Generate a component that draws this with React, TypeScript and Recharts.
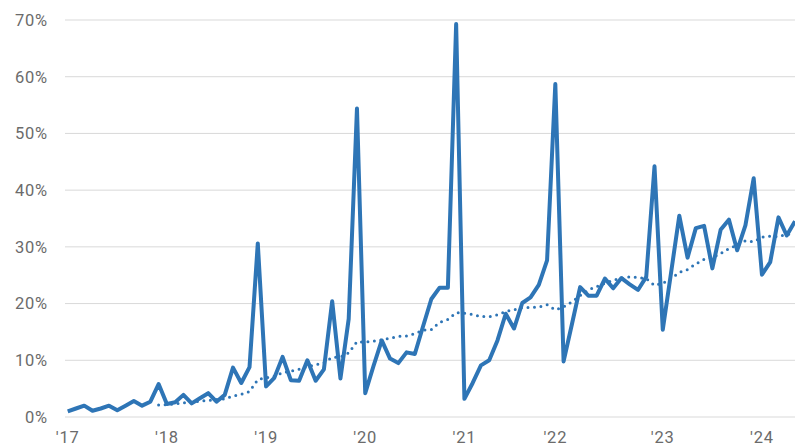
import { CartesianGrid, Line, LineChart, XAxis, YAxis } from "recharts";

// monthly share, Jan 2017 .. May 2024 (%)
const SHARE = [
  1.0, 1.5, 2.0, 1.1, 1.5, 2.0, 1.2, 2.0, 2.8, 2.0, 2.7, 5.8,
  2.3, 2.6, 3.9, 2.4, 3.3, 4.2, 2.7, 3.9, 8.7, 6.0, 8.8, 30.6,
  5.4, 6.9, 10.6, 6.5, 6.4, 10.0, 6.4, 8.4, 20.4, 6.8, 17.3, 54.4,
  4.2, 9.0, 13.5, 10.3, 9.5, 11.4, 11.1, 16.0, 20.8, 22.8, 22.8, 69.3,
  3.2, 6.0, 9.1, 10.0, 13.5, 18.2, 15.6, 20.1, 21.1, 23.3, 27.6, 58.7,
  9.8, 16.3, 22.9, 21.4, 21.4, 24.4, 22.7, 24.5, 23.4, 22.4, 24.7, 44.2,
  15.4, 25.4, 35.5, 28.1, 33.3, 33.7, 26.2, 33.0, 34.8, 29.4, 33.8, 42.1,
  25.1, 27.3, 35.2, 32.0, 34.5,
];

// dotted trend line, same months
const TREND = [
  null, null, null, null, null, null, null, null, null, null, null, 2.1,
  2.2, 2.3, 2.5, 2.6, 2.8, 2.9, 3.1, 3.2, 3.7, 4.0, 4.5, 6.6,
  6.9, 7.2, 7.8, 8.1, 8.4, 8.9, 9.2, 9.6, 10.5, 10.6, 11.3, 13.3,
  13.2, 13.4, 13.6, 13.9, 14.2, 14.3, 14.7, 15.3, 15.4, 16.7, 17.2, 18.4,
  18.3, 18.1, 17.7, 17.7, 18.0, 18.6, 18.9, 19.3, 19.3, 19.4, 19.8, 18.9,
  19.4, 20.3, 21.4, 22.4, 23.0, 23.6, 24.1, 24.5, 24.7, 24.6, 24.4, 23.2,
  23.6, 24.4, 25.5, 26.0, 27.0, 27.8, 28.1, 28.8, 29.7, 30.3, 31.1, 30.9,
  31.7, 31.9, 31.8, 32.2, 32.3,
];

// where the year labels sit (month index) and their text
const YEAR_TICKS = [0, 12, 24, 36, 48, 59, 72, 84];
const YEAR_LABELS = ["'17", "'18", "'19", "'20", "'21", "'22", "'23", "'24"];
const PCT_TICKS = [0, 10, 20, 30, 40, 50, 60, 70];

const BLUE = "#2e75b6";
const TICK = { fill: "#6b6b6b", fontSize: 16.5, fontFamily: "Roboto, sans-serif", letterSpacing: 0.8 };

const rows = SHARE.map((v, i) => ({ i, share: v, trend: TREND[i] }));

export default function App() {
  return (
    <div style={{ position: "absolute", left: 0, top: 0, width: 795, height: 448, overflow: "hidden", background: "#fff" }}>
      <LineChart width={795} height={448} data={rows} margin={{ top: 20, right: 0, bottom: 0, left: 0 }}>
        <CartesianGrid vertical={false} stroke="#d9d9d9" strokeWidth={1} />
        <XAxis
          type="number"
          dataKey="i"
          domain={[0, 88]}
          ticks={YEAR_TICKS}
          tickFormatter={(v: number) => YEAR_LABELS[YEAR_TICKS.indexOf(v)] ?? ""}
          interval={0}
          padding={{ left: 2.7, right: 0 }}
          axisLine={false}
          tickLine={false}
          tickSize={0}
          tickMargin={14}
          height={31}
          tick={TICK}
        />
        <YAxis
          domain={[0, 70]}
          ticks={PCT_TICKS}
          tickFormatter={(v: number) => `${v}%`}
          axisLine={false}
          tickLine={false}
          tickSize={0}
          tickMargin={17}
          width={65}
          tick={TICK}
        />
        <Line
          dataKey="trend"
          stroke={BLUE}
          strokeWidth={3}
          strokeDasharray="0 6.5"
          strokeLinecap="round"
          dot={false}
          connectNulls={false}
          isAnimationActive={false}
        />
        <Line
          dataKey="share"
          stroke={BLUE}
          strokeWidth={4}
          strokeLinejoin="round"
          dot={false}
          isAnimationActive={false}
        />
      </LineChart>
    </div>
  );
}
